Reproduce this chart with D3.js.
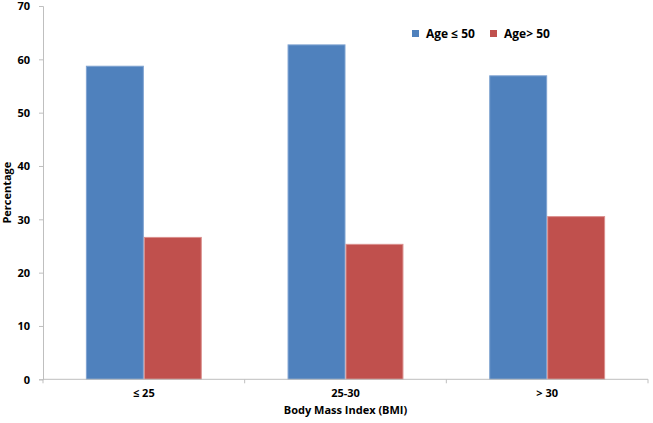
<!DOCTYPE html>
<html><head><meta charset="utf-8">
<script src="https://cdn.jsdelivr.net/npm/d3@7"></script>
<style>body{margin:0;background:#fff}svg{display:block}text{font-family:"Open Sans",Arial,sans-serif;font-weight:bold;fill:#000}</style>
</head><body><svg id="c" width="653" height="423"></svg>
<script>
const categories = ["\u2264 25", "25-30", "> 30"];
const seriesNames = ["Age \u2264 50", "Age> 50"];
const youngValues = [58.8, 62.8, 57.0];
const oldValues = [26.7, 25.4, 30.6];
const yTicks = [0, 10, 20, 30, 40, 50, 60, 70];
const colors = ["#4F81BD", "#C0504D"];
const edgeColors = ["#7FA3D1", "#DA8F8D"];

(function () {
const svg = d3.select("#c");
const mLeft = 43, mRight = 648, mTop = 6, mBottom = 379.3;
const x0 = d3.scaleBand().domain(categories).range([mLeft, mRight]).padding(0);
const x1 = d3.scaleBand().domain([0, 1]).range([0, x0.bandwidth()]).paddingInner(0).paddingOuter(0.74);
const y = d3.scaleLinear().domain([0, 70]).range([mBottom, mTop]);

const series = [youngValues, oldValues];
series.forEach((vals, si) => {
  svg.append("g").selectAll("rect").data(vals).join("rect")
    .attr("x", (d, i) => x0(categories[i]) + x1(si) + 0.5)
    .attr("width", x1.bandwidth() - 1)
    .attr("y", d => y(d) + 0.5)
    .attr("height", d => y(0) - y(d) - 0.5)
    .attr("fill", colors[si])
    .attr("stroke", edgeColors[si])
    .attr("stroke-width", 1);
});

const ya = svg.append("g").attr("transform", `translate(${mLeft},0)`)
  .call(d3.axisLeft(y).tickValues(yTicks).tickSize(4).tickPadding(9));
ya.select(".domain").attr("stroke", "#BFBFBF");
ya.selectAll(".tick line").attr("stroke", "#BFBFBF");
ya.selectAll("text").attr("font-size", 11).attr("dy", "0.36em").attr("font-family", "'Open Sans',Arial,sans-serif").attr("font-weight", "bold").attr("fill", "#000");

const xa = svg.append("g").attr("transform", `translate(0,${mBottom})`)
  .call(d3.axisBottom(x0).tickSize(0).tickPadding(10));
xa.select(".domain").attr("stroke", "#BFBFBF").attr("d", `M${mLeft},0H${mRight}`);
xa.selectAll("text").attr("font-size", 11).attr("font-family", "'Open Sans',Arial,sans-serif").attr("font-weight", "bold").attr("fill", "#000");
const bounds = categories.map(c => x0(c)).concat([mRight]);
svg.append("g").selectAll("line").data(bounds).join("line")
  .attr("x1", d => d).attr("x2", d => d).attr("y1", mBottom).attr("y2", mBottom + 4)
  .attr("stroke", "#BFBFBF");

svg.append("text").attr("x", (mLeft + mRight) / 2).attr("y", 414).attr("text-anchor", "middle")
  .attr("font-size", 11).text("Body Mass Index (BMI)");
svg.append("text").attr("transform", `translate(11,${(mTop + mBottom) / 2}) rotate(-90)`)
  .attr("text-anchor", "middle").attr("font-size", 11).text("Percentage");

const lg = svg.append("g");
const lx = [412, 490];
seriesNames.forEach((n, i) => {
  lg.append("rect").attr("x", lx[i]).attr("y", 30).attr("width", 7).attr("height", 7).attr("fill", colors[i]);
  lg.append("text").attr("x", lx[i] + 14).attr("y", 38).attr("font-size", 12).text(n);
});
})();
</script></body></html>
